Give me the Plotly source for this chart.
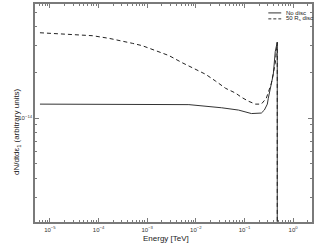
import plotly.graph_objects as go

# Data (energy in TeV, dN/dtdε in arbitrary units)
energy_nodisc = [6.25e-6, 1.05e-4, 1.10e-3, 7.2e-3, 3.40e-2, 7.55e-2, 0.139, 0.193, 0.222,
                 0.256, 0.295, 0.309, 0.391, 0.429, 0.472, 0.472]
flux_nodisc = [1.235e-14, 1.235e-14, 1.229e-14, 1.225e-14, 1.168e-14, 1.128e-14, 1.07e-14,
               1.067e-14, 1.078e-14, 1.128e-14, 1.235e-14, 1.35e-14, 1.94e-14, 2.74e-14,
               3.17e-14, 1e-16]

energy_disc = [6.25e-6, 7.55e-5, 1.67e-4, 3.09e-4, 4.94e-4, 7.91e-4, 1.53e-3, 2.81e-3,
               5.18e-3, 1.0e-2, 1.60e-2, 2.56e-2, 4.09e-2, 6.55e-2, 8.68e-2, 0.121, 0.168,
               0.222, 0.281, 0.356, 0.429, 0.472, 0.472]
flux_disc = [3.65e-14, 3.49e-14, 3.35e-14, 3.23e-14, 3.11e-14, 3.0e-14, 2.78e-14, 2.58e-14,
             2.32e-14, 2.10e-14, 1.94e-14, 1.75e-14, 1.57e-14, 1.46e-14, 1.37e-14, 1.29e-14,
             1.235e-14, 1.235e-14, 1.35e-14, 1.69e-14, 2.29e-14, 3.14e-14, 1e-16]

x_tick_vals = [1e-5, 1e-4, 1e-3, 1e-2, 1e-1, 1e0]
x_tick_text = ["10<sup>−5</sup>", "10<sup>−4</sup>", "10<sup>−3</sup>",
               "10<sup>−2</sup>", "10<sup>−1</sup>", "10<sup>0</sup>"]
y_tick_vals = [1e-14]
y_tick_text = ["10<sup>−14</sup>"]

series_names = ["No disc", "50 R<sub>s</sub> disc"]

x_minor = [k * 10.0 ** d for d in range(-6, 1) for k in range(2, 10)]
y_minor = [k * 10.0 ** d for d in (-15, -14) for k in range(2, 10)]

FONT = "Liberation Sans, Arial, sans-serif"
AX = "#7a7a7a"

fig = go.Figure()
fig.add_trace(go.Scatter(x=energy_nodisc, y=flux_nodisc, mode="lines", name=series_names[0],
                         line=dict(color="#333333", width=1), showlegend=False))
fig.add_trace(go.Scatter(x=energy_disc, y=flux_disc, mode="lines", name=series_names[1],
                         line=dict(color="#222222", width=1, dash="4px,3px"), showlegend=False))

axis_common = dict(showline=True, linecolor=AX, linewidth=1.5, mirror="allticks",
                   ticks="inside", ticklen=4, tickwidth=1, tickcolor=AX,
                   showgrid=False, zeroline=False,
                   tickfont=dict(family=FONT, size=6, color="#333"))

fig.update_xaxes(type="log", range=[-5.306, 0.388], tickmode="array",
                 tickvals=x_tick_vals, ticktext=x_tick_text, ticklabelstandoff=1,
                 minor=dict(tickmode="array", tickvals=x_minor, ticks="inside",
                            ticklen=2, tickcolor=AX, showgrid=False),
                 **axis_common)
fig.update_yaxes(type="log", range=[-14.686, -13.248], tickmode="array",
                 tickvals=y_tick_vals, ticktext=y_tick_text,
                 minor=dict(tickmode="array", tickvals=y_minor, ticks="inside",
                            ticklen=2, tickcolor=AX, showgrid=False),
                 **axis_common)

L, R, T, B = 35, 2, 2, 23
W, H = 316, 245
pw, ph = W - L - R, H - T - B

def px(xp):
    return (xp - L) / pw

def py(yp):
    return (H - B - yp) / ph

annotations = [
    dict(text="Energy [TeV]", x=px(167), y=py(239), xref="paper", yref="paper",
         yanchor="middle", showarrow=False, font=dict(family=FONT, size=8, color="#222")),
    dict(text="dN/dtdε<sub>1</sub> (arbitrary units)", x=px(10), y=py(131), xref="paper",
         yref="paper", showarrow=False, textangle=-90,
         font=dict(family=FONT, size=8, color="#222")),
]
shapes = []
leg_rows = [(11, "solid"), (17, "dash")]
for (yrow, dash), name in zip(leg_rows, series_names):
    shapes.append(dict(type="line", xref="paper", yref="paper", x0=px(270), x1=px(283),
                       y0=py(yrow), y1=py(yrow),
                       line=dict(color="#333", width=1, dash="3px,2px" if dash == "dash" else "solid")))
    annotations.append(dict(text=name, x=px(286), y=py(yrow), xref="paper", yref="paper",
                            xanchor="left", yanchor="middle", showarrow=False,
                            font=dict(family=FONT, size=6, color="#222")))

fig.update_layout(width=W, height=H, margin=dict(l=L, r=R, t=T, b=B),
                  paper_bgcolor="white", plot_bgcolor="white",
                  annotations=annotations, shapes=shapes, showlegend=False)

fig.write_html("out.html", config={"displayModeBar": False},
               post_script="document.body.style.margin='0';")
